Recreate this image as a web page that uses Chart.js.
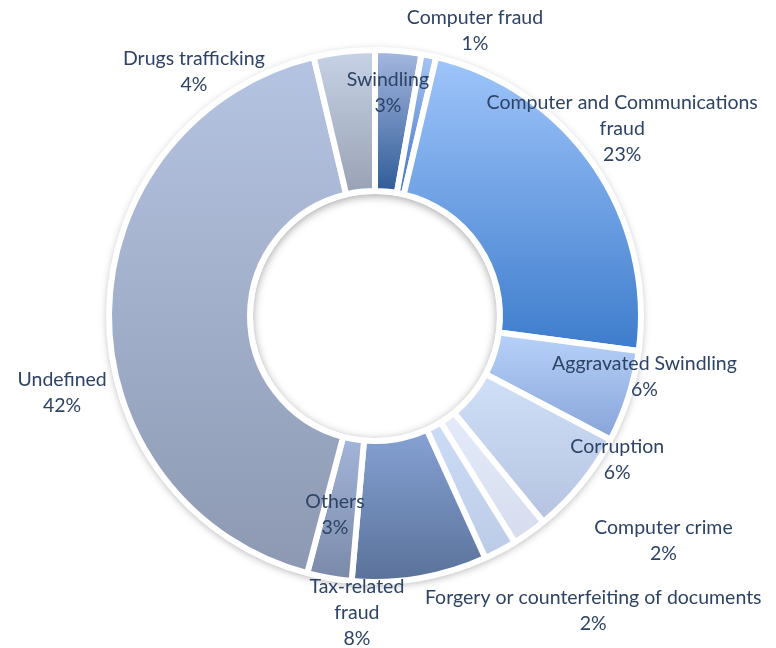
<!DOCTYPE html>
<html>
<head>
<meta charset="utf-8">
<script src="https://cdn.jsdelivr.net/npm/chart.js@4.4.1/dist/chart.umd.min.js"></script>
<style>
  html, body { margin: 0; padding: 0; background: #ffffff; }
  #wrap { width: 776px; height: 648px; position: relative; }
</style>
</head>
<body>
<div id="wrap"><canvas id="fraudChart"></canvas></div>
<script>
/* global Chart */

// Kategorie a podíly (čteno z obrázku, po směru hodinových ručiček od 12h)
const categories = [
    'Swindling',
    'Computer fraud',
    'Computer and Communications\nfraud',
    'Aggravated Swindling',
    'Corruption',
    'Computer crime',
    'Forgery or counterfeiting of documents',
    'Tax-related\nfraud',
    'Others',
    'Undefined',
    'Drugs trafficking'
];
const shares = [2.8, 0.9, 23.4, 5.6, 6.4, 2.1, 2.0, 8.2, 2.7, 42.2, 3.7];

// Barvy přechodů (nahoře / dole)
const topColors = ['#a5b8e0', '#a8c6f5', '#9fc5fb', '#b8d2fa', '#cfe0f8', '#e3ebfa', '#cddcf6', '#86a2d4', '#a3b5da', '#b5c4e2', '#c7d2e6'];
const bottomColors = ['#2e5b97', '#4274c4', '#3d7ccc', '#87a4d8', '#b5c3e0', '#d6dced', '#bccbe6', '#5a729a', '#7a89a8', '#8d99b2', '#99a2b4'];

const OUTER_R = 266;
const INNER_R = 125;
const BORDER = 6;
const TEXT_COLOR = '#2d4365';
const FONT = '19.5px Lato, "Noto Sans", sans-serif';
const LINE_H = 26;

// umístění popisků: [úhel od 12h ve stupních, násobek poloměru]
const labelPlacement = [
    [3.3, 0.85], [19.3, 1.15], [52.8, 1.18], [102.6, 1.05], [120.6, 1.07],
    [127.9, 1.39], [143.5, 1.395], [183.5, 1.13], [191.4, 0.77], [256.2, 1.225], [323.4, 1.155]
];

const total = shares.reduce((a, b) => a + b, 0);

function sliceAngles(i) {
    let before = 0;
    for (let k = 0; k < i; k++) before += shares[k];
    const start = -Math.PI / 2 + 2 * Math.PI * before / total;
    const end = start + 2 * Math.PI * shares[i] / total;
    return [start, end];
}

function sliceGradient(context) {
    const i = context.dataIndex;
    const chart = context.chart;
    const area = chart.chartArea;
    if (!area) return topColors[i];
    const cx = (area.left + area.right) / 2;
    const cy = (area.top + area.bottom) / 2;
    const [a0, a1] = sliceAngles(i);
    let ymin = Infinity, ymax = -Infinity;
    for (let s = 0; s <= 60; s++) {
        const a = a0 + (a1 - a0) * s / 60;
        for (const r of [OUTER_R, INNER_R]) {
            const y = cy + r * Math.sin(a);
            ymin = Math.min(ymin, y);
            ymax = Math.max(ymax, y);
        }
    }
    const g = chart.ctx.createLinearGradient(0, ymin, 0, ymax);
    g.addColorStop(0, topColors[i]);
    g.addColorStop(1, bottomColors[i]);
    return g;
}

// Stín pod prstencem
const ringShadow = {
    id: 'ringShadow',
    beforeDatasetsDraw(chart) {
        const area = chart.chartArea;
        const cx = (area.left + area.right) / 2;
        const cy = (area.top + area.bottom) / 2;
        const ctx = chart.ctx;
        ctx.save();
        ctx.shadowColor = 'rgba(0,0,0,0.35)';
        ctx.shadowBlur = 8;
        ctx.shadowOffsetY = 2;
        ctx.fillStyle = '#ffffff';
        ctx.beginPath();
        ctx.arc(cx, cy, OUTER_R + 1, 0, Math.PI * 2);
        ctx.arc(cx, cy, INNER_R - 3, 0, Math.PI * 2, true);
        ctx.fill();
        ctx.restore();
    }
};

// Popisky s kategorií a procenty
const sliceLabels = {
    id: 'sliceLabels',
    afterDatasetsDraw(chart) {
        const area = chart.chartArea;
        const cx = (area.left + area.right) / 2;
        const cy = (area.top + area.bottom) / 2;
        const R = OUTER_R - BORDER / 2;
        const ctx = chart.ctx;
        ctx.save();
        ctx.font = FONT;
        ctx.fillStyle = TEXT_COLOR;
        ctx.textAlign = 'center';
        ctx.textBaseline = 'middle';
        categories.forEach((name, i) => {
            const [deg, k] = labelPlacement[i];
            const a = deg * Math.PI / 180;
            const x = cx + k * R * Math.sin(a);
            const y = cy - k * R * Math.cos(a);
            const lines = name.split('\n').concat(Math.round(shares[i] / total * 100) + '%');
            lines.forEach((line, j) => {
                ctx.fillText(line, x, y + (j - (lines.length - 1) / 2) * LINE_H);
            });
        });
        ctx.restore();
    }
};

new Chart(document.getElementById('fraudChart'), {
    type: 'doughnut',
    data: {
        labels: categories,
        datasets: [{
            data: shares,
            backgroundColor: sliceGradient,
            borderColor: '#ffffff',
            borderWidth: BORDER,
            hoverOffset: 0
        }]
    },
    options: {
        responsive: true,
        maintainAspectRatio: false,
        animation: false,
        radius: OUTER_R,
        cutout: (INNER_R / OUTER_R * 100) + '%',
        layout: { padding: { left: 0, right: 26, top: 0, bottom: 16 } },
        plugins: {
            legend: { display: false },
            tooltip: { enabled: false }
        }
    },
    plugins: [ringShadow, sliceLabels]
});
</script>
</body>
</html>
